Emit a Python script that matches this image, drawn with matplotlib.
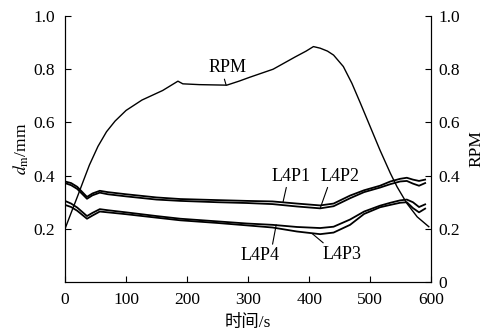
import matplotlib.pyplot as plt
from matplotlib.ticker import FuncFormatter

plt.rcParams['font.family'] = ['Liberation Serif', 'Noto Sans CJK SC']
plt.rcParams['mathtext.fontset'] = 'stix'
plt.rcParams['font.size'] = 12

# time axis for the droplet diameter series (s)
t_d = [0, 10, 20, 36, 45, 57, 70, 100, 150, 189, 250, 298, 340, 380, 418,
       440, 467, 490, 516, 533, 549, 560, 570, 580, 590]
l4p1 = [0.378, 0.372, 0.358, 0.320, 0.333, 0.343, 0.338, 0.330, 0.318, 0.312,
        0.308, 0.305, 0.303, 0.295, 0.288, 0.295, 0.325, 0.345, 0.362, 0.378,
        0.388, 0.392, 0.385, 0.380, 0.385]
l4p2 = [0.372, 0.364, 0.350, 0.313, 0.326, 0.336, 0.330, 0.322, 0.310, 0.305,
        0.300, 0.297, 0.293, 0.284, 0.277, 0.285, 0.315, 0.338, 0.355, 0.368,
        0.378, 0.380, 0.370, 0.362, 0.372]
l4p4 = [0.305, 0.295, 0.280, 0.248, 0.260, 0.274, 0.270, 0.262, 0.248, 0.238,
        0.228, 0.220, 0.215, 0.207, 0.203, 0.208, 0.235, 0.265, 0.287, 0.298,
        0.307, 0.310, 0.300, 0.282, 0.292]
l4p3 = [0.290, 0.282, 0.268, 0.238, 0.250, 0.265, 0.262, 0.255, 0.242, 0.232,
        0.222, 0.213, 0.205, 0.190, 0.180, 0.186, 0.215, 0.256, 0.281, 0.290,
        0.298, 0.300, 0.278, 0.262, 0.276]

# normalised rotation speed
t_r = [0, 10, 21, 30, 40, 54, 68, 82, 100, 126, 160, 185, 193, 220, 265, 285,
       303, 341, 377, 395, 407, 418, 430, 440, 456, 470, 484, 500, 516, 533,
       544, 560, 577, 596]
rpm = [0.20, 0.26, 0.325, 0.38, 0.44, 0.51, 0.565, 0.605, 0.645, 0.684, 0.720,
       0.755, 0.745, 0.742, 0.740, 0.755, 0.770, 0.800, 0.846, 0.868, 0.885,
       0.879, 0.868, 0.853, 0.810, 0.747, 0.672, 0.584, 0.496, 0.409, 0.358,
       0.296, 0.245, 0.208]

fig = plt.figure(figsize=(4.87, 3.33), dpi=100)
ax = fig.add_axes([0.1335, 0.153, 0.752, 0.799])

for y in (l4p1, l4p2, l4p3, l4p4):
    ax.plot(t_d, y, color='black', lw=1.3)
ax.plot(t_r, rpm, color='black', lw=1.0)

ax.set_xlim(0, 600)
ax.set_ylim(0, 1.0)
ax.set_xticks([0, 100, 200, 300, 400, 500, 600])
ax.set_yticks([0.2, 0.4, 0.6, 0.8, 1.0])
ax.spines['top'].set_visible(False)
ax.tick_params(direction='in', length=4, width=0.8, labelsize=12.5)
ax.tick_params(axis='x', pad=7)
ax.tick_params(axis='y', pad=7)
ax.set_xlabel('时间/s', fontsize=12.5, labelpad=5)
ax.set_ylabel(r'$d_{\mathrm{m}}$/mm', fontsize=12.5, labelpad=2)

ax2 = ax.twinx()
ax2.set_ylim(0, 1.0)
ax2.set_yticks([0, 0.2, 0.4, 0.6, 0.8, 1.0])
ax2.yaxis.set_major_formatter(FuncFormatter(lambda v, p: '0' if v == 0 else f'{v:.1f}'))
ax2.spines['top'].set_visible(False)
ax2.tick_params(direction='in', length=4, width=0.8, labelsize=12.5, pad=5)
ax2.set_ylabel('RPM', fontsize=12.5, labelpad=6)

lead = dict(arrowstyle='-', lw=0.8, color='black', shrinkA=0, shrinkB=0)
labels = [
    ('RPM', (264, 0.740), (266, 0.805), (0.4, 0.0)),
    ('L4P1', (357, 0.299), (370, 0.398), (0.4, 0.0)),
    ('L4P2', (418, 0.277), (451, 0.398), (0.2, 0.0)),
    ('L4P4', (346, 0.215), (320, 0.100), (0.8, 1.0)),
    ('L4P3', (405, 0.182), (454, 0.105), (0.1, 1.0)),
]
for name, xy, xytext, rel in labels:
    ax.annotate(name, xy=xy, xytext=xytext, ha='center', va='center',
                fontsize=13, arrowprops=dict(lead, relpos=rel))

fig.savefig('out.png', dpi=100)
